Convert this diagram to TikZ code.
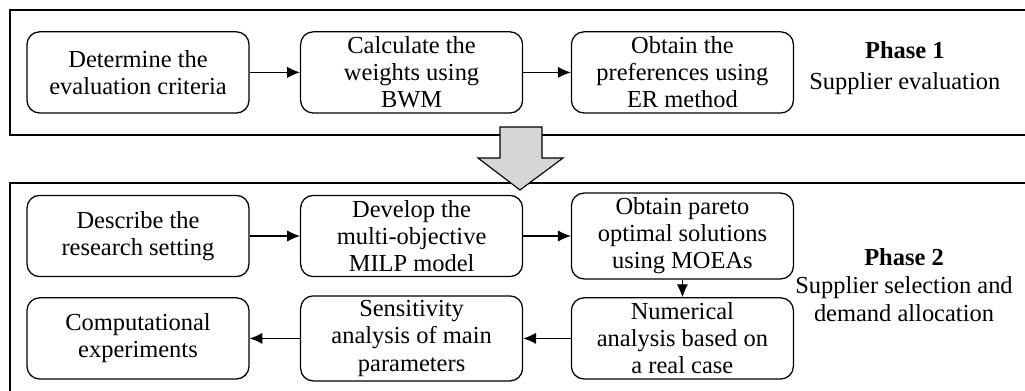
\documentclass[tikz,border=0pt]{standalone}
\usepackage{fontspec}
\setmainfont{Liberation Serif}
\usepackage{tikz}
\usetikzlibrary{positioning,arrows.meta}
\tikzset{
  stepbox/.style={draw=black,rounded corners=9pt,line width=0.9pt,minimum width=5.55cm,minimum height=2.03cm,align=center,font=\fontsize{17.4}{19.3}\selectfont,fill=white},
  phase/.style={align=center,font=\fontsize{17.4}{20}\selectfont},
  frame/.style={line width=1.4pt,draw=black},
  flow/.style={-{Latex[length=3.2mm,width=2.8mm]},line width=0.75pt,draw=black},
  bigarrow/.style={fill=black!16,draw=black,line width=0.8pt,line join=miter}
}
\begin{document}
\begin{tikzpicture}[x=1cm,y=1cm]
\useasboundingbox (0,0) rectangle (25.625,-9.75);
% Rahmen der Phasen
\draw[frame] (25.7,-0.25) -- (0.25,-0.25) -- (0.25,-3.375) -- (25.7,-3.375);
\draw[frame] (25.7,-4.575) -- (0.25,-4.575) -- (0.25,-9.8);

% Phase 1
\node[stepbox] (crit) at (3.45,-1.81) {Determine the\\evaluation criteria};
\node[stepbox] (bwm) at (10.29,-1.81) {Calculate the\\weights using\\BWM};
\node[stepbox] (er) at (17.06,-1.81) {Obtain the\\preferences using\\ER method};
\node[phase] (ph1) at (22.62,-1.7) {\textbf{Phase 1}\\[2pt]Supplier evaluation};

% Phase 2
\node[stepbox] (setting) at (3.45,-5.9) {Describe the\\research setting};
\node[stepbox] (milp) at (10.29,-5.9) {Develop the\\multi-objective\\MILP model};
\node[stepbox] (moea) at (17.06,-5.9) {Obtain pareto\\optimal solutions\\using MOEAs};
\node[stepbox] (real) at (17.06,-8.46) {Numerical\\analysis based on\\a real case};
\node[stepbox] (sens) at (10.29,-8.46) {Sensitivity\\analysis of main\\parameters};
\node[stepbox] (comp) at (3.45,-8.46) {Computational\\experiments};
\node[phase] (ph2) at (22.6,-7.12) {\textbf{Phase 2}\\Supplier selection and\\demand allocation};

% Pfeil zwischen den Phasen
\draw[bigarrow] (12.5,-3.175) -- (13.55,-3.175) -- (13.55,-3.95) -- (14.075,-3.95)
  -- (13.0,-4.75) -- (11.95,-3.95) -- (12.5,-3.95) -- cycle;

\draw[flow] (crit.east) -- (bwm.west);
\draw[flow] (bwm.east) -- (er.west);
\draw[flow] (setting.east) -- (milp.west);
\draw[flow] (milp.east) -- (moea.west);
\draw[flow] (moea.south) -- (real.north);
\draw[flow] (real.west) -- (sens.east);
\draw[flow] (sens.west) -- (comp.east);
\end{tikzpicture}
\end{document}
